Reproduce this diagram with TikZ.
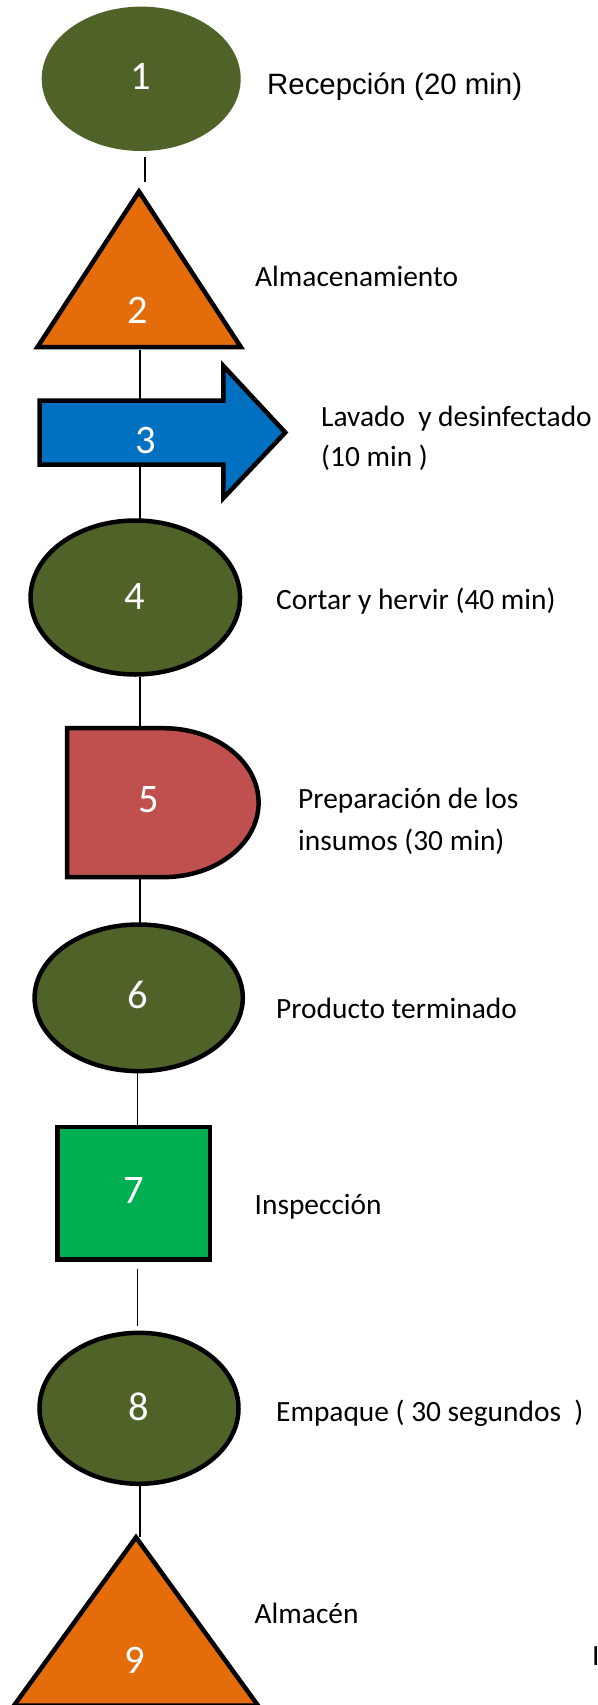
\documentclass[tikz,border=0pt]{standalone}
\usepackage{fontspec}
\setmainfont{Carlito}
\newfontfamily\arialfont{Liberation Sans}
\usetikzlibrary{shapes.geometric}
\definecolor{cOlive}{HTML}{4F6228}
\definecolor{cOrange}{HTML}{E46C0A}
\definecolor{cBlue}{HTML}{0070C0}
\definecolor{cRed}{HTML}{C0504D}
\definecolor{cGreen}{HTML}{00B050}
\begin{document}
\begin{tikzpicture}[x=1pt,y=1pt,
  shapeline/.style={draw=black, line width=4.5pt},
  conn/.style={draw=black, line width=1.1pt},
  num/.style={text=white, font=\fontsize{40.5}{40}\selectfont, inner sep=0pt},
  lbl/.style={anchor=base west, inner sep=0pt, font=\fontsize{29.4}{35}\selectfont},
  ellbox/.style={ellipse, inner sep=0pt, outer sep=0pt},
]
\useasboundingbox (0,0) rectangle (597,-1705);
\fill[white] (0,0) rectangle (597,-1705);

% connector end points
\coordinate (c1a) at (145,-157.3);   \coordinate (c1b) at (145,-182.3);
\coordinate (c2a) at (140,-350);     \coordinate (c2b) at (140,-399);
\coordinate (c3a) at (140,-466);     \coordinate (c3b) at (140,-519);
\coordinate (c4a) at (140,-677);     \coordinate (c4b) at (140,-727);
\coordinate (c5a) at (140,-878);     \coordinate (c5b) at (140,-923);
\coordinate (c6a) at (137.7,-1073);  \coordinate (c6b) at (137.7,-1126);
\coordinate (c7a) at (137.7,-1269);  \coordinate (c7b) at (137.7,-1325.7);
\coordinate (c8a) at (140,-1486);    \coordinate (c8b) at (140,-1537);

\draw[conn] (c1a) -- (c1b);
\draw[conn] (c2a) -- (c2b);
\draw[conn] (c3a) -- (c3b);
\draw[conn] (c4a) -- (c4b);
\draw[conn] (c5a) -- (c5b);
\draw[conn] (c6a) -- (c6b);
\draw[conn] (c7a) -- (c7b);
\draw[conn] (c8a) -- (c8b);

% 1 ellipse (no outline)
\node[ellbox, fill=cOlive, minimum width=199pt, minimum height=144.4pt] (s1) at (141.2,-78.8) {};
% 2 triangle
\path[shapeline, fill=cOrange] (139,-191.5) -- (240.8,-347) -- (37.5,-347) -- cycle;
% 3 arrow
\path[shapeline, fill=cBlue] (39.5,-400.5) -- (223.3,-400.5) -- (223.3,-365.8) -- (285.3,-432.5)
   -- (223.3,-498.2) -- (223.3,-464.5) -- (39.5,-464.5) -- cycle;
% 4 ellipse
\node[ellbox, shapeline, fill=cOlive, minimum width=209.5pt, minimum height=154pt] (s4) at (135.3,-597.5) {};
% 5 delay shape
\path[shapeline, fill=cRed] (67.2,-728.2) -- (163.7,-728.2)
   arc[start angle=90, end angle=-90, x radius=94.9, y radius=74.45]
   -- (67.2,-877.1) -- cycle;
% 6 ellipse
\node[ellbox, shapeline, fill=cOlive, minimum width=208.2pt, minimum height=146.6pt] (s6) at (138.7,-997.8) {};
% 7 square
\node[rectangle, shapeline, fill=cGreen, inner sep=0pt, outer sep=0pt, minimum width=152.4pt, minimum height=132.3pt] (s7) at (133.9,-1193.35) {};
% 8 ellipse
\node[ellbox, shapeline, fill=cOlive, minimum width=199pt, minimum height=151pt] (s8) at (139,-1408.3) {};
% 9 triangle
\path[shapeline, fill=cOrange] (136,-1537.3) -- (258,-1705.5) -- (14,-1705.5) -- cycle;

% numbers
\node[num] (n1) at (141,-76.7) {1};
\node[num] (n2) at (137.7,-310) {2};
\node[num] (n3) at (146,-440) {3};
\node[num] (n4) at (135,-596.7) {4};
\node[num] (n5) at (148.5,-800) {5};
\node[num] (n6) at (137.7,-995) {6};
\node[num] (n7) at (133.3,-1190) {7};
\node[num] (n8) at (138.3,-1406.7) {8};
\node[num] (n9) at (135,-1660) {9};

% labels
\node[lbl, font=\arialfont\fontsize{29.4}{35}\selectfont] (l1) at (267,-94.3) {Recepción (20 min)};
\node[lbl] (l2) at (255,-286) {Almacenamiento};
\node[lbl] (l3a) at (321,-426) {Lavado\ \ y desinfectado};
\node[lbl] (l3b) at (321,-466.7) {(10 min )};
\node[lbl] (l4) at (276,-609.5) {Cortar y hervir (40 min)};
\node[lbl] (l5a) at (298,-808.3) {Preparación de los};
\node[lbl] (l5b) at (298,-850) {insumos (30 min)};
\node[lbl] (l6) at (276,-1018.5) {Producto terminado};
\node[lbl] (l7) at (254.5,-1214.5) {Inspección};
\node[lbl] (l8) at (276,-1421.5) {Empaque ( 30 segundos\ \ )};
\node[lbl] (l9) at (254.5,-1623.3) {Almacén};
\node[lbl] (l10) at (592,-1665) {I};
\end{tikzpicture}
\end{document}
